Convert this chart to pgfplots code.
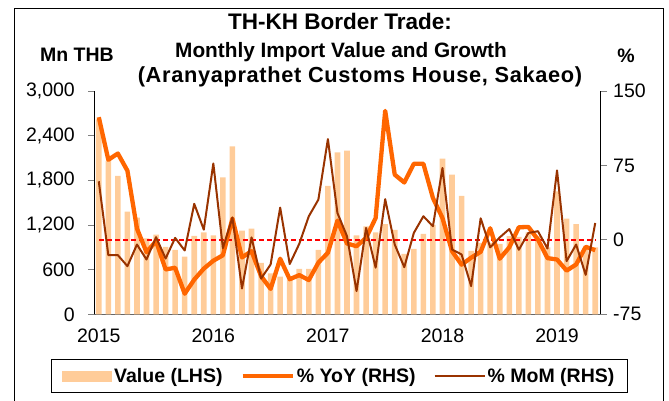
\documentclass[border=0pt]{standalone}
\usepackage{pgfplots}
\pgfplotsset{compat=1.18}
\usepackage{pgfplotstable}
\usepackage{fontspec}
\setmainfont{Liberation Sans}
\definecolor{barcol}{HTML}{FFCC99}
\definecolor{yoycol}{HTML}{FF6600}
\definecolor{momcol}{HTML}{993300}
\pgfplotsset{longline/.style={legend image code/.code={\draw[##1] (0pt,0pt) -- (50pt,0pt);}}}
\pgfplotstableread{
m value yoy mom
0 2620 123.6 59
1 2060 80.7 -15.4
2 1860 87 -15.4
3 1380 69.7 -26.5
4 1300 11.4 -4.7
5 1020 -12.4 -19.8
6 1070 -1.3 2.7
7 905 -29.8 -18.8
8 865 -28.1 2
9 775 -54.3 -10.7
10 1055 -40 36.3
11 1100 -29 10.3
12 1060 -21 77
13 1840 -15.5 -8.3
14 2255 21.5 22.5
15 1125 -17.7 -49
16 1150 -11.4 2.5
17 690 -36.5 -39
18 550 -49.4 -24.8
19 505 -19 32.5
20 460 -39.7 -24.4
21 610 -35.5 -4
22 610 -40.5 23.8
23 865 -23 40.5
24 1725 -13 101.5
25 2175 19.4 27
26 2200 -3.7 3.7
27 1060 -6.4 -51.6
28 1180 2 12
29 1100 22 -28
30 1210 130 41
31 1135 65.7 -4.7
32 812 57.8 -27.5
33 880 76.7 7
34 1080 76.7 23.8
35 1200 42.2 13.7
36 2090 22 72.4
37 1875 -11.4 -9.7
38 1592 -25 -14.7
39 852 -18 -46.6
40 960 -12 21.7
41 960 11.7 -7.5
42 946 -19 2.5
43 1050 -7.5 10.9
44 1040 12.7 -10
45 1100 13 7
46 1050 0.3 8.7
47 900 -18.4 -8.7
48 1650 -19.8 70
49 1285 -31 -21.4
50 1213 -24.8 -4.7
51 870 -7 -35.3
52 900 -10.4 17
}\data
\begin{document}
\begin{tikzpicture}[x=1pt,y=1pt]
\path[use as bounding box] (0,0) rectangle (669,401);
\draw[line width=1pt] (14,-2) -- (14,392) -- (663,392) -- (663,-2);
\node[font=\bfseries\fontsize{22.5}{26}\selectfont] at (340,380) {TH-KH Border Trade:};
\node[font=\bfseries\fontsize{20.8}{26}\selectfont] at (341,349) {Monthly Import Value and Growth};
\node[font=\bfseries\fontsize{21.8}{26}\selectfont\addfontfeatures{LetterSpace=3}] at (360,324) {(Aranyaprathet Customs House, Sakaeo)};
\node[font=\bfseries\fontsize{19.5}{22}\selectfont] at (77,346) {Mn THB};
\node[font=\bfseries\fontsize{19.5}{22}\selectfont] at (626,345) {\%};
\begin{axis}[
  at={(94pt,86.7pt)}, anchor=south west,
  width=506pt, height=223.3pt, scale only axis,
  xmin=-0.5, xmax=52.5, ymin=0, ymax=3000,
  axis x line*=bottom, axis y line*=left,
  x axis line style={draw=gray!80!black, line width=1pt},
  y axis line style={line width=1pt},
  xtick={0,12,24,36,48}, xticklabels={2015,2016,2017,2018,2019},
  minor xtick={-0.5,11.5,23.5,35.5,47.5},
  ytick={0,600,1200,1800,2400,3000},
  yticklabels={0,600,{1,200},{1,800},{2,400},{3,000}},
  tick align=outside,
  major tick length=6pt, minor tick length=6pt,
  xtick style={draw=none},
  minor tick style={draw=black, line width=0.8pt},
  ytick style={line width=0.8pt},
  tick label style={font=\fontsize{19.5}{22}\selectfont},
  xticklabel style={yshift=-5pt},
  yticklabel style={inner sep=1pt, xshift=-12pt},
]
\addplot[ybar, bar width=5.6pt, fill=barcol, draw=none] table[x=m, y=value] {\data};
\end{axis}
\begin{axis}[
  at={(94pt,86.7pt)}, anchor=south west,
  width=506pt, height=223.3pt, scale only axis,
  xmin=-0.5, xmax=52.5, ymin=-75, ymax=150,
  axis x line=none, axis y line*=right,
  y axis line style={line width=1pt},
  ytick={-75,0,75,150}, yticklabels={-75,0,75,150},
  tick align=outside, major tick length=7pt,
  ytick style={line width=0.8pt},
  tick label style={font=\fontsize{19.5}{22}\selectfont},
  yticklabel style={inner sep=2pt, xshift=4pt},
  legend columns=3,
  legend style={at={(0.485,-0.276)}, anchor=center, draw=black, line width=0.8pt,
    font=\bfseries\fontsize{19.5}{22}\selectfont,
    /tikz/every even column/.append style={column sep=16pt},
    inner xsep=11pt, inner ysep=7pt},
  legend cell align=left,
]
\addlegendimage{legend image code/.code={\fill[barcol] (0pt,-5pt) rectangle (49pt,5pt);}}
\addlegendentry{Value (LHS)}
\addplot[red, line width=1.5pt, dash pattern=on 5pt off 3pt, forget plot] coordinates {(0,0) (52,0)};
\addplot[yoycol, line width=4.3pt, line join=round, longline] table[x=m, y=yoy] {\data};
\addlegendentry{\% YoY (RHS)}
\addplot[momcol, line width=2pt, line join=round, longline] table[x=m, y=mom] {\data};
\addlegendentry{\% MoM (RHS)}
\end{axis}
\end{tikzpicture}
\end{document}
